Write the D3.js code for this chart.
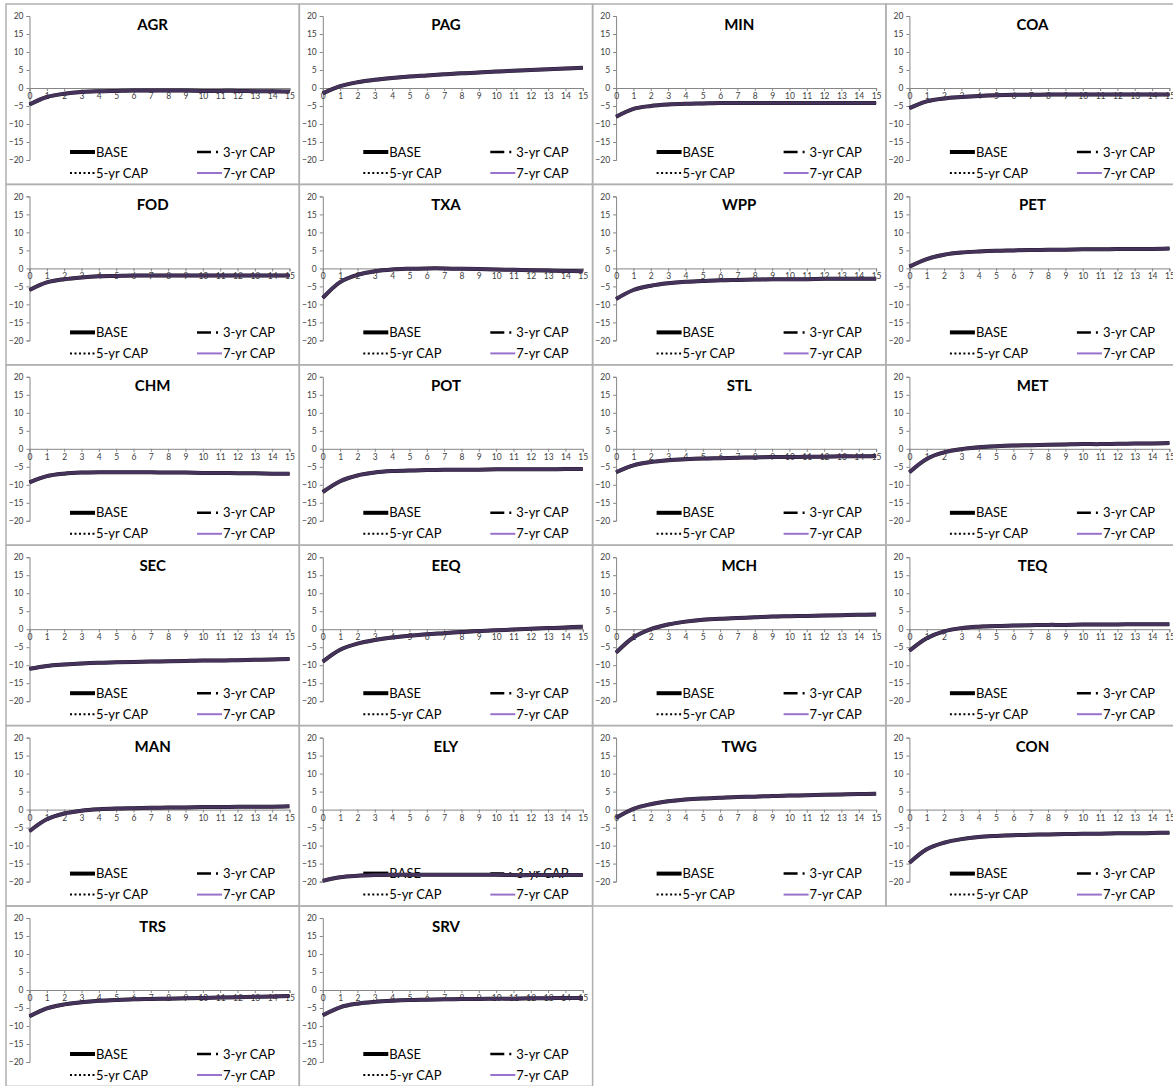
<!DOCTYPE html>
<html lang="en">
<head>
<meta charset="utf-8">
<title>Sector paths</title>
<script src="https://d3js.org/d3.v7.min.js"></script>
<style>
  body { margin: 0; background: #fff; }
  svg { display: block; font-family: Lato, 'Open Sans', sans-serif; }
</style>
</head>
<body>
<script>
// years on the x axis and y tick labels
const years = [0, 1, 2, 3, 4, 5, 6, 7, 8, 9, 10, 11, 12, 13, 14, 15];
const yTicks = [20, 15, 10, 5, 0, -5, -10, -15, -20];
const scenarios = ['BASE', '3-yr CAP', '5-yr CAP', '7-yr CAP'];
const sectors = ['AGR', 'PAG', 'MIN', 'COA', 'FOD', 'TXA', 'WPP', 'PET', 'CHM', 'POT', 'STL',
  'MET', 'SEC', 'EEQ', 'MCH', 'TEQ', 'MAN', 'ELY', 'TWG', 'CON', 'TRS', 'SRV'];

// % deviation per year (the four scenarios overlap at this scale)
const AGR = [-4.6, -2.5, -1.6, -1.1, -0.9, -0.8, -0.7, -0.7, -0.7, -0.7, -0.8, -0.8, -0.8, -0.9, -0.9, -1.0];
const PAG = [-1.5, 0.5, 1.6, 2.3, 2.8, 3.2, 3.5, 3.8, 4.1, 4.3, 4.6, 4.8, 5.0, 5.2, 5.4, 5.6];
const MIN = [-8.0, -5.8, -5.0, -4.6, -4.4, -4.3, -4.2, -4.2, -4.2, -4.2, -4.2, -4.2, -4.2, -4.2, -4.2, -4.2];
const COA = [-5.6, -3.7, -2.9, -2.5, -2.2, -2.0, -1.9, -1.9, -1.8, -1.8, -1.8, -1.8, -1.8, -1.8, -1.8, -1.8];
const FOD = [-6.0, -3.9, -3.0, -2.5, -2.2, -2.1, -2.0, -2.0, -2.0, -2.0, -2.0, -2.0, -2.0, -2.0, -2.0, -2.0];
const TXA = [-8.2, -3.8, -1.8, -0.8, -0.3, -0.1, 0.0, 0.0, -0.1, -0.2, -0.3, -0.4, -0.5, -0.6, -0.7, -0.8];
const WPP = [-8.5, -6.0, -4.8, -4.1, -3.7, -3.5, -3.3, -3.2, -3.1, -3.0, -3.0, -3.0, -2.9, -2.9, -2.9, -2.9];
const PET = [0.5, 2.6, 3.8, 4.4, 4.7, 4.9, 5.0, 5.1, 5.2, 5.2, 5.3, 5.3, 5.4, 5.4, 5.4, 5.5];
const CHM = [-9.3, -7.6, -6.9, -6.6, -6.5, -6.5, -6.5, -6.5, -6.6, -6.6, -6.7, -6.7, -6.8, -6.8, -6.9, -6.9];
const POT = [-12.0, -9.0, -7.4, -6.6, -6.2, -6.0, -5.9, -5.8, -5.8, -5.8, -5.7, -5.7, -5.7, -5.7, -5.6, -5.6];
const STL = [-6.5, -4.6, -3.7, -3.2, -2.9, -2.7, -2.6, -2.5, -2.4, -2.3, -2.3, -2.2, -2.2, -2.1, -2.1, -2.0];
const MET = [-6.5, -2.8, -1.0, -0.1, 0.4, 0.7, 0.9, 1.0, 1.1, 1.2, 1.3, 1.3, 1.4, 1.5, 1.5, 1.6];
const SEC = [-11.0, -10.2, -9.8, -9.5, -9.3, -9.2, -9.1, -9.0, -8.9, -8.8, -8.7, -8.7, -8.6, -8.5, -8.4, -8.3];
const EEQ = [-9.0, -5.7, -4.0, -3.0, -2.3, -1.8, -1.4, -1.1, -0.8, -0.5, -0.3, -0.1, 0.1, 0.3, 0.5, 0.7];
const MCH = [-6.5, -2.3, 0.0, 1.3, 2.1, 2.6, 2.9, 3.1, 3.3, 3.5, 3.6, 3.7, 3.8, 3.9, 4.0, 4.1];
const TEQ = [-6.0, -2.5, -0.6, 0.3, 0.7, 0.9, 1.0, 1.1, 1.2, 1.2, 1.3, 1.3, 1.3, 1.4, 1.4, 1.4];
const MAN = [-6.0, -2.7, -1.1, -0.3, 0.1, 0.3, 0.4, 0.5, 0.6, 0.6, 0.7, 0.7, 0.8, 0.8, 0.8, 0.9];
const ELY = [-19.8, -18.8, -18.4, -18.2, -18.1, -18.1, -18.1, -18.1, -18.1, -18.1, -18.1, -18.2, -18.2, -18.2, -18.2, -18.2];
const TWG = [-2.3, 0.2, 1.5, 2.3, 2.8, 3.1, 3.3, 3.5, 3.6, 3.8, 3.9, 4.0, 4.1, 4.2, 4.3, 4.4];
const CON = [-14.8, -11.0, -9.2, -8.2, -7.6, -7.3, -7.1, -7.0, -6.9, -6.8, -6.7, -6.7, -6.6, -6.6, -6.5, -6.4];
const TRS = [-7.3, -5.1, -4.0, -3.4, -3.0, -2.8, -2.6, -2.5, -2.4, -2.3, -2.2, -2.1, -2.0, -1.9, -1.8, -1.7];
const SRV = [-7.0, -4.8, -3.8, -3.3, -3.0, -2.8, -2.7, -2.6, -2.5, -2.5, -2.4, -2.4, -2.3, -2.3, -2.2, -2.2];

const values = { AGR, PAG, MIN, COA, FOD, TXA, WPP, PET, CHM, POT, STL, MET, SEC, EEQ, MCH, TEQ, MAN, ELY, TWG, CON, TRS, SRV };

const lineStyle = {
  'BASE': { color: '#000', width: 4, dash: null },
  '3-yr CAP': { color: '#000', width: 2.5, dash: '14,5,2,4' },
  '5-yr CAP': { color: '#000', width: 2, dash: '2,2.5' },
  '7-yr CAP': { color: '#9b72cb', width: 2, dash: null }
};

const W = 1173, H = 1086;
const colW = 293.3, rowH = 180.4, left0 = 6, top0 = 4;

const svg = d3.select('body').append('svg')
  .attr('width', W)
  .attr('height', H);

const x = d3.scaleLinear().domain([0, 15]).range([23.5, 283.5]);
const y = d3.scaleLinear().domain([-20, 20]).range([156, 12]);
const line = d3.line()
  .x((d, i) => x(years[i]))
  .y(d => y(d))
  .curve(d3.curveCatmullRom);

// legend slots: [x, y] for each scenario
const legendPos = [[64, 148], [191, 148], [64, 169], [191, 169]];

sectors.forEach((name, i) => {
  const col = i % 4, row = Math.floor(i / 4);
  const g = svg.append('g')
    .attr('transform', 'translate(' + (left0 + col * colW) + ',' + (top0 + row * rowH) + ')');

  g.append('rect')
    .attr('width', colW)
    .attr('height', rowH)
    .attr('fill', 'none')
    .attr('stroke', '#b0b0b0')
    .attr('stroke-width', 1.5);

  g.append('text')
    .attr('x', colW / 2)
    .attr('y', 26)
    .attr('text-anchor', 'middle')
    .attr('font-size', 15)
    .attr('font-weight', 'bold')
    .text(name);

  const yAxis = g.append('g')
    .attr('transform', 'translate(' + x(0) + ',0)')
    .call(d3.axisLeft(y).tickValues(yTicks).tickSize(3).tickPadding(3));
  const xAxis = g.append('g')
    .attr('transform', 'translate(0,' + y(0) + ')')
    .call(d3.axisBottom(x).tickValues(years).tickSize(3).tickPadding(2));
  [xAxis, yAxis].forEach(a => {
    a.selectAll('path, line').attr('stroke', '#868686');
    a.selectAll('text').attr('font-size', 8.5).attr('fill', '#404040')
      .attr('font-family', 'Lato, sans-serif');
  });

  // legend
  scenarios.forEach((s, k) => {
    const st = lineStyle[s];
    const [lx, ly] = legendPos[k];
    g.append('line')
      .attr('x1', lx).attr('x2', lx + 25)
      .attr('y1', ly).attr('y2', ly)
      .attr('stroke', st.color)
      .attr('stroke-width', st.width)
      .attr('stroke-dasharray', st.dash);
    g.append('text')
      .attr('x', lx + 26)
      .attr('y', ly)
      .attr('dy', '0.36em')
      .attr('font-size', 13)
      .text(s);
  });

  // series: the 7-yr line sits on top and tints the black lines below
  scenarios.forEach(s => {
    const st = lineStyle[s];
    const top = s === '7-yr CAP';
    g.append('path')
      .datum(values[name])
      .attr('d', line)
      .attr('fill', 'none')
      .attr('stroke', st.color)
      .attr('stroke-width', top ? 3.5 : st.width)
      .attr('stroke-opacity', top ? 0.45 : 1)
      .attr('stroke-dasharray', st.dash);
  });
});
</script>
</body>
</html>
